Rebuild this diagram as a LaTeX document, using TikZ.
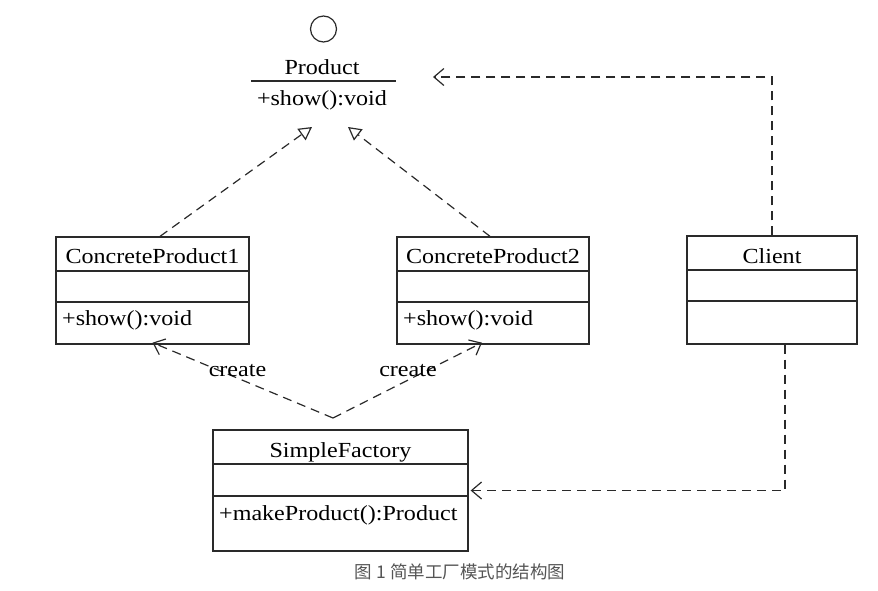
\documentclass[tikz,border=0pt]{standalone}
\usepackage{fontspec}
\setmainfont{Liberation Serif}[FakeStretch=1.12]
\newfontfamily\cjk{Noto Sans CJK SC}
\usetikzlibrary{arrows.meta,calc}
\definecolor{ln}{HTML}{2A2A2A}
\definecolor{cap}{HTML}{555555}
\tikzset{
  umlbox/.style={draw=ln, line width=1.3pt, rectangle, inner sep=0pt},
  txt/.style={inner sep=0pt, anchor=base, text=black, font=\fontsize{21.5}{24}\selectfont},
  ltxt/.style={txt, anchor=base west},
  dep/.style={draw=ln, line width=1.2pt, dash pattern=on 9pt off 6pt},
  real/.style={dep, -{Triangle[open, length=13pt, width=14pt, line width=1.2pt]}},
  useby/.style={dep, -{Straight Barb[length=10pt, width=17pt, line width=1.2pt]}},
  sep/.style={draw=ln, line width=1.3pt}
}
\begin{document}
\begin{tikzpicture}[x=1pt, y=-1pt]
\useasboundingbox (0,0) rectangle (878,590);
% Product interface
\node[draw=ln, line width=1.2pt, circle, minimum size=26pt, inner sep=0pt] (iface) at (323.5,29) {};
\node[txt] (pname) at (322,74) {Product};
\coordinate (pl) at (251,81);
\coordinate (pr) at (395.5,81);
\draw[sep] (pl) -- (pr);
\node[txt] (pops) at (322,105) {+show():void};
\coordinate (tipL) at (312,127);
\coordinate (tipR) at (348,127);
\coordinate (tipC) at (433,77);

% ConcreteProduct1
\node[umlbox, minimum width=193pt, minimum height=107pt] (cp1) at (152.5,290.5) {};
\draw[sep] (56,271) -- (249,271);
\draw[sep] (56,302) -- (249,302);
\node[txt] (cp1n) at (152.5,263) {ConcreteProduct1};
\node[ltxt] (cp1o) at (62,325) {+show():void};

% ConcreteProduct2
\node[umlbox, minimum width=192pt, minimum height=107pt] (cp2) at (493,290.5) {};
\draw[sep] (397,271) -- (589,271);
\draw[sep] (397,302) -- (589,302);
\node[txt] (cp2n) at (493,263) {ConcreteProduct2};
\node[ltxt] (cp2o) at (403,325) {+show():void};

% Client
\node[umlbox, minimum width=170pt, minimum height=108pt] (client) at (772,290) {};
\draw[sep] (687,270) -- (857,270);
\draw[sep] (687,301) -- (857,301);
\node[txt] (clientn) at (772,263) {Client};

% SimpleFactory
\node[umlbox, minimum width=255pt, minimum height=121pt] (sf) at (340.5,490.5) {};
\draw[sep] (213,464) -- (468,464);
\draw[sep] (213,496) -- (468,496);
\node[txt] (sfn) at (340.5,457) {SimpleFactory};
\node[ltxt] (sfo) at (219,520) {+makeProduct():Product};

% realizations
\draw[real] ([xshift=7.5pt]cp1.north) -- (tipL);
\draw[real] ([xshift=-3pt]cp2.north) -- (tipR);

% create dependencies
\coordinate (cf) at (333,418);
\draw[useby] (cf) -- ([yshift=2pt]cp1.south);
\draw[useby] (cf) -- ([xshift=-11pt,yshift=2pt]cp2.south);
\node[txt] (c1) at (237.5,376) {create};
\node[txt] (c2) at (408,376) {create};

% client dependencies
\draw[useby] (client.north) |- (tipC);
\draw[useby] ([xshift=13pt]client.south) |- ([xshift=2pt]sf.east);

% caption
\node[inner sep=0pt, text=cap, font=\cjk\fontsize{17.5}{20}\selectfont] (caption) at (460,572) {图 1 简单工厂模式的结构图};
\end{tikzpicture}
\end{document}
